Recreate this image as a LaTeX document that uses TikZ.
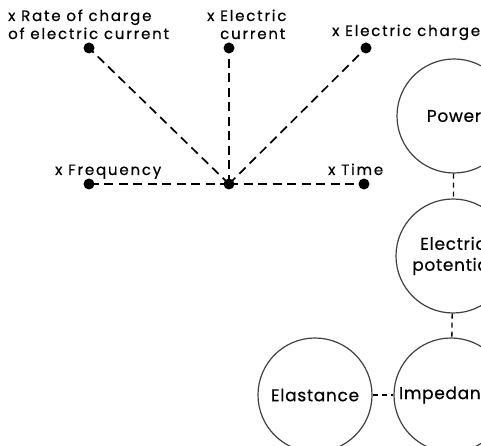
\documentclass[tikz,border=0pt]{standalone}
\usepackage{fontspec}
\setmainfont{Poppins}[FakeBold=0.6]
\newfontfamily\lblfont{Poppins}[FakeBold=0.6,LetterSpace=12]
\newfontfamily\bubfont{Poppins}[FakeBold=0.6,LetterSpace=4]
\begin{document}
\begin{tikzpicture}[x=1pt,y=-1pt,
  dot/.style={circle,fill=black,inner sep=0pt,minimum size=11pt},
  conn/.style={line width=1.7pt,dash pattern=on 9pt off 5.5pt},
  link/.style={line width=1.3pt,dash pattern=on 5pt off 4pt},
  bubble/.style={circle,draw=black!75,line width=1.2pt,minimum size=114pt,inner sep=0pt,align=center,font=\bubfont\fontsize{17}{21}\selectfont},
  lbl/.style={inner sep=0pt,font=\lblfont\fontsize{15}{18}\selectfont,align=left}]
\useasboundingbox (0,0) rectangle (481,446);
\clip (0,0) rectangle (481,446);
% dots
\node[dot] (c) at (229,184) {};
\node[dot] (f) at (89,184) {};
\node[dot] (t) at (364,184) {};
\node[dot] (r) at (89,48) {};
\node[dot] (e) at (229,48) {};
\node[dot] (q) at (366,48) {};
\draw[conn] (c.center) -- (f.center);
\draw[conn] (c.center) -- (t.center);
\draw[conn] (c.center) -- (r.center);
\draw[conn] (c.center) -- (e.center);
\draw[conn] (c.center) -- (q.center);
% labels
\node[lbl,anchor=base west] (lr) at (8,39) {x Rate of charge\\of electric current};
\node[lbl,anchor=base west] (le) at (207,39) {x Electric\\\hphantom{x }current};
\node[lbl,anchor=base west] (lq) at (332,36) {x Electric charge};
\node[lbl,anchor=base west] (lf) at (55,175) {x Frequency};
\node[lbl,anchor=base west] (lt) at (328,175) {x Time};
% bubbles
\node[bubble] (pw) at (454,116) {Power};
\node[bubble] (ep) at (453,256) {Electric\\potential};
\node[bubble] (im) at (451,395) {Impedance};
\node[bubble] (el) at (315,395) {Elastance};
\draw[link] (pw) -- (ep);
\draw[link] (ep) -- (im);
\draw[link] (el) -- (im);
\end{tikzpicture}
\end{document}
